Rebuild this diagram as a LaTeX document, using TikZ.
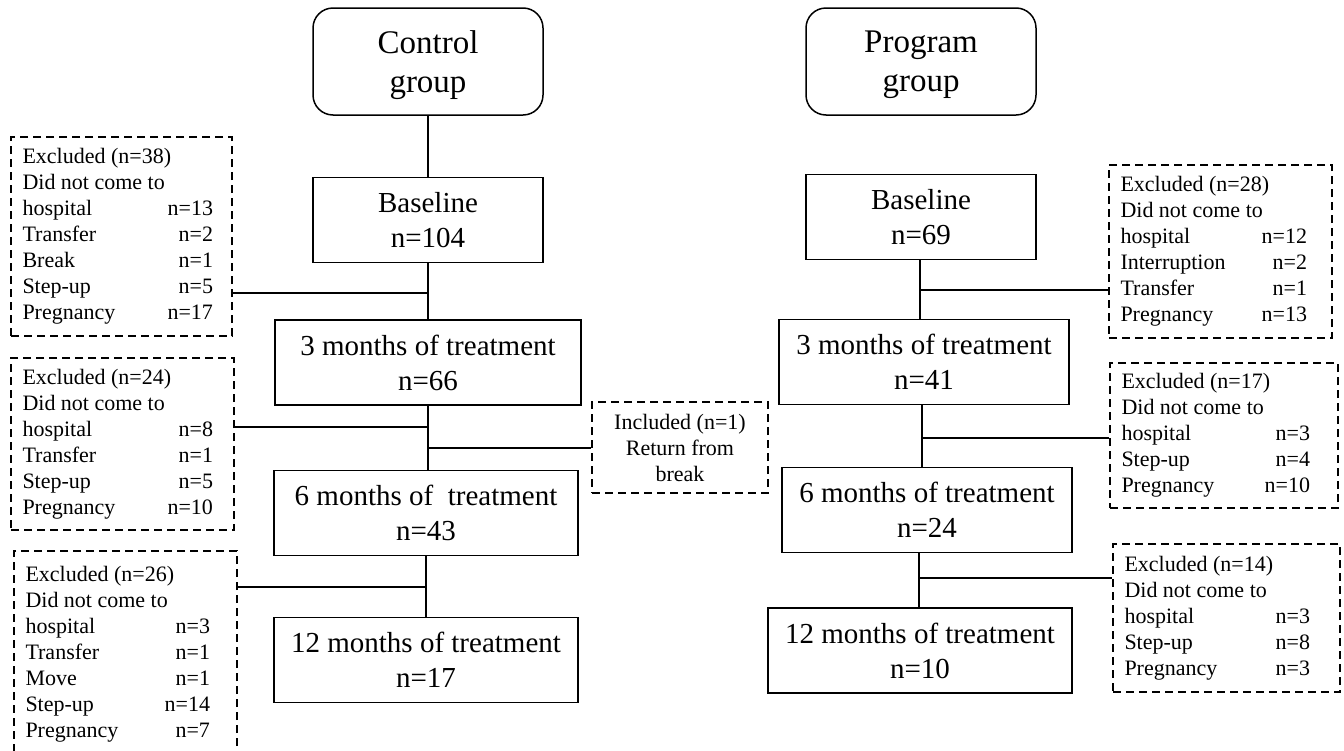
\documentclass[tikz,border=0pt]{standalone}
\usepackage{fontspec}
\setmainfont{Liberation Serif}
\usepackage{array}

% one dashed list: width, right padding, rows
\newcommand{\exlist}[3]{%
  \begin{tabular*}{#1}{@{\hspace{5.75pt}}l@{\extracolsep{\fill}}r@{\hspace{#2}}}#3\end{tabular*}}
\newcommand{\exhead}[1]{\multicolumn{2}{@{\hspace{5.75pt}}l}{#1}}

\begin{document}
\begin{tikzpicture}[x=.5pt,y=-.5pt,line width=.75pt]

      \useasboundingbox (0,0) rectangle (1344,750);
      \clip (0,0) rectangle (1344,750);

      \begin{scope}[every node/.style={draw,rounded corners=10pt,minimum width=115pt,minimum height=53.5pt,
          align=center,text depth=0pt,font=\fontsize{16.5}{19.5}\selectfont}]
        \node (1) at (428,61.5)  {Control\\group};
        \node (6) at (921,61.5)  {Program\\group};
      \end{scope}

      \begin{scope}[every node/.style={draw,minimum height=42.5pt,align=center,
          font=\fontsize{14.5}{17.5}\selectfont}]
        \node[minimum width=115pt] (2)  at (428,220)   {Baseline\\n=104};
        \node[minimum width=153pt] (3)  at (428,362.5) {3 months of treatment\\n=66};
        \node[minimum width=152pt] (4)  at (426,513)   {6 months of\ \ treatment\\n=43};
        \node[minimum width=152pt] (5)  at (426,660)   {12 months of treatment\\n=17};
        \node[minimum width=115pt] (7)  at (921,217)   {Baseline\\n=69};
        \node[minimum width=145pt] (8)  at (924,362)   {3 months of treatment\\n=41};
        \node[minimum width=145pt] (9)  at (927,510)   {6 months of treatment\\n=24};
        \node[minimum width=152pt] (10) at (920,650.5) {12 months of treatment\\n=10};
      \end{scope}

      \begin{scope}[every node/.style={draw,line width=.6pt,dash pattern=on 4pt off 2.5pt,inner sep=0pt,
          font=\fontsize{11}{13}\selectfont}]
        \node[minimum height=99.5pt] (11) at (121.5,236.5) {\exlist{110.5pt}{9.5pt}{%
            \exhead{Excluded (n=38)}\\ \exhead{Did not come to}\\
            hospital & n=13\\ Transfer & n=2\\ Break & n=1\\ Step-up & n=5\\ Pregnancy & n=17\\}};
        \node[minimum height=86pt] (12) at (122.5,444) {\exlist{111.5pt}{10.5pt}{%
            \exhead{Excluded (n=24)}\\ \exhead{Did not come to}\\
            hospital & n=8\\ Transfer & n=1\\ Step-up & n=5\\ Pregnancy & n=10\\}};
        \node[minimum height=103pt] (13) at (125.5,654) {\exlist{111.5pt}{13.5pt}{%
            \exhead{Excluded (n=26)}\\ \exhead{Did not come to}\\
            hospital & n=3\\ Transfer & n=1\\ Move & n=1\\ Step-up & n=14\\ Pregnancy & n=7\\}};
        \node[minimum width=88pt,minimum height=45.5pt,align=center] (14) at (680,447.5)
            {Included (n=1)\\Return from\\break};
        \node[minimum height=86.5pt] (15) at (1220.5,251.5) {\exlist{111.5pt}{12.5pt}{%
            \exhead{Excluded (n=28)}\\ \exhead{Did not come to}\\
            hospital & n=12\\ Interruption & n=2\\ Transfer & n=1\\ Pregnancy & n=13\\}};
        \node[minimum height=72.5pt] (16) at (1224,435.5) {\exlist{114pt}{14pt}{%
            \exhead{Excluded (n=17)}\\ \exhead{Did not come to}\\
            hospital & n=3\\ Step-up & n=4\\ Pregnancy & n=10\\}};
        \node[minimum height=74pt] (17) at (1226.5,618) {\exlist{113.5pt}{15pt}{%
            \exhead{Excluded (n=14)}\\ \exhead{Did not come to}\\
            hospital & n=3\\ Step-up & n=8\\ Pregnancy & n=3\\}};
      \end{scope}

      % junctions on the trunks
      \coordinate (a) at (428,293);
      \coordinate (b) at (428,427);
      \coordinate (c) at (428,448);
      \coordinate (d) at (426,587);
      \coordinate (e) at (920,290);
      \coordinate (f) at (922,438);
      \coordinate (g) at (919,578);

      \begin{scope}[every edge/.style={draw}]
        \path (1) edge (2);
        \path (2) edge (3);
        \path (b |- 3.south) edge (b |- 4.north);
        \path (4) edge (5);
        \path (a -| 11.east) edge (a);
        \path (b -| 12.east) edge (b);
        \path (c) edge (c -| 14.west);
        \path (d -| 13.east) edge (d);
        \path (6) edge (e |- 6.south);
        \path (e |- 7.south) edge (e |- 8.north);
        \path (f |- 8.south) edge (f |- 9.north);
        \path (g |- 9.south) edge (g |- 10.north);
        \path (e) edge (e -| 15.west);
        \path (f) edge (f -| 16.west);
        \path (g) edge (g -| 17.west);
      \end{scope}

    \end{tikzpicture}
\end{document}
